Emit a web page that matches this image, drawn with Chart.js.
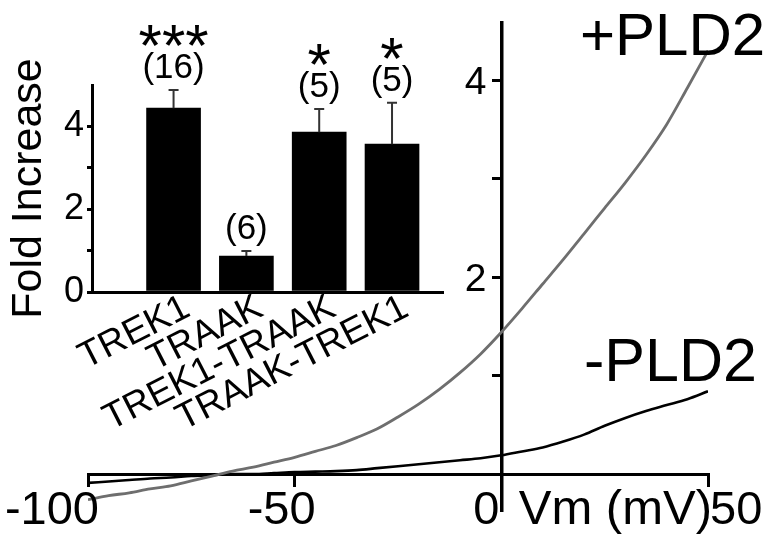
<!DOCTYPE html>
<html><head><meta charset="utf-8">
<script src="https://cdn.jsdelivr.net/npm/chart.js@4.4.1/dist/chart.umd.min.js"></script>
<style>
html,body{margin:0;padding:0;background:#fff;}
#wrap{position:relative;width:771px;height:539px;overflow:hidden;}
canvas{position:absolute;left:0;top:0;}
</style></head><body>
<div id="wrap">
<canvas id="main" width="771" height="539"></canvas>
<canvas id="inset" width="771" height="539"></canvas>
</div>
<script>
// ---- Main I-V traces ----
const voltages = [-100,-95,-90,-85,-80,-75,-70,-65,-60,-55,-50,-45,-40,-35,-30,-25,-20,-15,-10,-5,0,5,10,15,20,25,30,35,40,45,50];
const plusPLD2 = [-0.26,-0.22,-0.19,-0.15,-0.12,-0.07,-0.02,0.03,0.07,0.12,0.17,0.23,0.29,0.37,0.46,0.58,0.71,0.86,1.03,1.22,1.44,1.68,1.93,2.18,2.44,2.70,2.96,3.24,3.55,3.92,4.30];
const minusPLD2 = [-0.09,-0.075,-0.06,-0.045,-0.035,-0.02,-0.01,0.0,0.0,0.01,0.02,0.025,0.03,0.04,0.06,0.08,0.10,0.12,0.14,0.16,0.19,0.23,0.27,0.33,0.40,0.49,0.57,0.64,0.70,0.76,0.84];
const xTickValues = [-100,-50,0,50];
const xTickLabels = ['-100','-50','0','50'];
const yTickValues = [1,2,3,4];
const yTickLabels = ['','2','','4'];
const xAxisTitle = 'Vm (mV)';
const seriesNames = ['+PLD2','-PLD2'];

// ---- Inset bar chart ----
const categories = ['TREK1','TRAAK','TREK1-TRAAK','TRAAK-TREK1'];
const foldIncrease = [4.44, 0.87, 3.86, 3.57];
const foldError = [0.44, 0.12, 0.56, 1.00];
const nLabels = ['(16)','(6)','(5)','(5)'];
const sigLabels = ['***','','*','*'];
const insetTickValues = [0,1,2,3,4];
const insetTickLabels = ['0','','2','','4'];
const insetTitle = 'Fold Increase';

const FAM = '"Liberation Sans", Arial, Helvetica, sans-serif';
Chart.defaults.font.family = FAM;
Chart.defaults.color = '#000';

const mainLabels = {
  id: 'mainLabels',
  afterDraw(chart) {
    const {ctx, scales: {x, y}} = chart;
    ctx.save();
    ctx.fillStyle = '#000';
    ctx.textBaseline = 'alphabetic';
    // x tick labels
    ctx.font = '47px ' + FAM;
    const aligns = ['right', 'center', 'right', 'left'];
    const shifts = [11, -13, -2, 2];
    const base = y.getPixelForValue(0) + 50;
    xTickValues.forEach((v, i) => {
      ctx.textAlign = aligns[i];
      ctx.fillText(xTickLabels[i], x.getPixelForValue(v) + shifts[i], base);
    });
    ctx.font = '49px ' + FAM;
    ctx.textAlign = 'right';
    ctx.fillText(xAxisTitle, x.getPixelForValue(50) + 4, base);
    // y tick labels
    ctx.font = '39px ' + FAM;
    ctx.textAlign = 'right';
    yTickValues.forEach((v, i) => {
      if (yTickLabels[i]) ctx.fillText(yTickLabels[i], x.getPixelForValue(0) - 15, y.getPixelForValue(v) + 14);
    });
    // series labels
    ctx.textAlign = 'left';
    ctx.font = '60px ' + FAM;
    ctx.fillText(seriesNames[0], 580, 55);
    ctx.font = '61px ' + FAM;
    ctx.fillText(seriesNames[1], 584, 381);
    ctx.restore();
  }
};

new Chart(document.getElementById('main'), {
  type: 'line',
  data: {
    datasets: [
      {label: seriesNames[0], data: voltages.map((v, i) => ({x: v, y: plusPLD2[i]})),
       borderColor: '#6e6e6e', borderWidth: 2.8, pointRadius: 0, cubicInterpolationMode: 'monotone'},
      {label: seriesNames[1], data: voltages.map((v, i) => ({x: v, y: minusPLD2[i]})),
       borderColor: '#000', borderWidth: 2.6, pointRadius: 0, cubicInterpolationMode: 'monotone'}
    ]
  },
  options: {
    responsive: false, animation: false,
    layout: {padding: {left: 88, right: 63, top: 23, bottom: 29}},
    plugins: {legend: {display: false}, tooltip: {enabled: false}},
    scales: {
      x: {
        type: 'linear', min: -100, max: 50, position: {y: 0},
        afterBuildTicks: s => { s.ticks = xTickValues.map(v => ({value: v})); },
        grid: {drawOnChartArea: false, drawTicks: true, tickLength: 11, lineWidth: 3, color: '#000'},
        border: {display: true, width: 3, color: '#000'},
        ticks: {display: false}
      },
      y: {
        type: 'linear', min: -0.365, max: 4.58, position: {x: 0},
        afterBuildTicks: s => { s.ticks = yTickValues.map(v => ({value: v})); },
        grid: {drawOnChartArea: false, drawTicks: true, tickLength: 8, lineWidth: 3, color: '#000'},
        border: {display: true, width: 3.5, color: '#000'},
        ticks: {display: false}
      }
    }
  },
  plugins: [mainLabels]
});

const insetDecor = {
  id: 'insetDecor',
  afterDatasetsDraw(chart) {
    const {ctx, scales: {x, y}} = chart;
    ctx.save();
    categories.forEach((c, i) => {
      const cx = x.getPixelForValue(i + 1);
      const top = y.getPixelForValue(foldIncrease[i]);
      const et = y.getPixelForValue(foldIncrease[i] + foldError[i]);
      ctx.strokeStyle = '#333';
      ctx.lineWidth = 2;
      ctx.beginPath();
      ctx.moveTo(cx, top); ctx.lineTo(cx, et);
      ctx.moveTo(cx - 5, et); ctx.lineTo(cx + 5, et);
      ctx.stroke();
      ctx.fillStyle = '#000';
      ctx.textAlign = 'center';
      ctx.textBaseline = 'alphabetic';
      ctx.font = '35px ' + FAM;
      const nb = et - 12;
      ctx.fillText(nLabels[i], cx, nb);
      if (sigLabels[i]) {
        ctx.font = '60px ' + FAM;
        ctx.fillText(sigLabels[i], cx, nb - 12);
      }
    });
    ctx.restore();
  }
};

new Chart(document.getElementById('inset'), {
  type: 'bar',
  data: {
    datasets: [{
      data: categories.map((c, i) => ({x: i + 1, y: foldIncrease[i]})),
      backgroundColor: '#000', borderWidth: 0, barThickness: 54
    }]
  },
  options: {
    responsive: false, animation: false,
    layout: {padding: {left: 8, right: 328, top: 85, bottom: 97}},
    plugins: {legend: {display: false}, tooltip: {enabled: false}},
    scales: {
      x: {
        type: 'linear', min: -0.12, max: 4.70, offset: false,
        afterBuildTicks: s => { s.ticks = categories.map((c, i) => ({value: i + 1})); },
        afterFit: s => { s.height = 150; },
        grid: {display: false, drawTicks: false, tickLength: 0},
        border: {display: true, width: 3, color: '#000', dash: [0, 24, 1000, 0]},
        ticks: {callback: (v, i) => categories[i], minRotation: 27, maxRotation: 27,
                font: {size: 37}, color: '#000', padding: -6, labelOffset: 14, autoSkip: false}
      },
      y: {
        min: 0, max: 5,
        afterBuildTicks: s => { s.ticks = insetTickValues.map(v => ({value: v})); },
        afterFit: s => { s.width = 84; },
        grid: {drawOnChartArea: false, drawTicks: true, tickLength: 5, lineWidth: 3, color: '#000'},
        border: {display: true, width: 3, color: '#000'},
        ticks: {callback: (v, i) => insetTickLabels[i], font: {size: 36}, color: '#000', padding: 3},
        title: {display: true, text: insetTitle, font: {size: 43, lineHeight: 1}, color: '#000', padding: 0}
      }
    }
  },
  plugins: [insetDecor]
});
</script>
</body></html>
